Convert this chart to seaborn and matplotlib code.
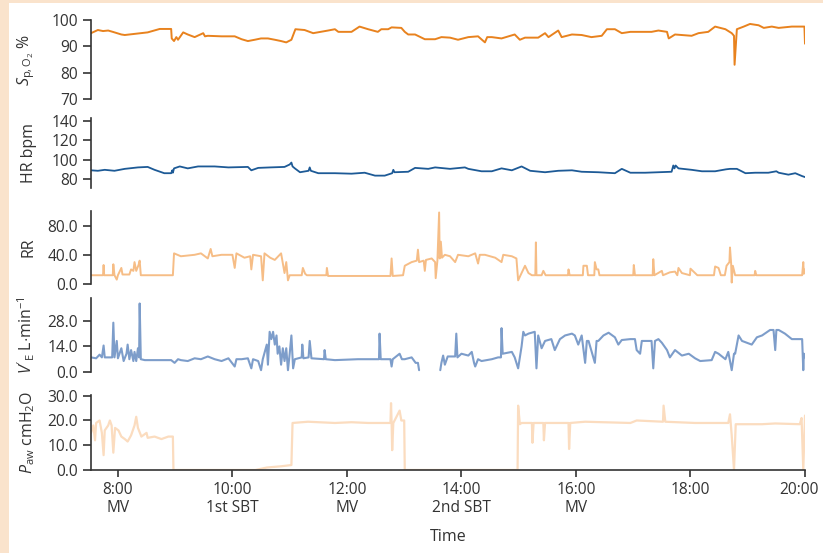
import matplotlib
matplotlib.use("Agg")
import matplotlib.pyplot as plt
from matplotlib.patches import Rectangle
from matplotlib.transforms import ScaledTranslation
import seaborn as sns
import pandas as pd

# ---------------- data (time in decimal hours, value) ----------------
spo2 = [(7.53, 95.0), (7.65, 96.2), (7.74, 95.8), (7.83, 96.0), (7.91, 95.5), (8.06, 94.5),
        (8.12, 94.3), (8.52, 95.3), (8.73, 96.6), (8.93, 96.6), (8.94, 93.0), (8.98, 92.0),
        (9.02, 93.5), (9.05, 92.5), (9.14, 95.3), (9.22, 94.5), (9.34, 93.5), (9.49, 95.0),
        (9.52, 93.8), (9.57, 94.0), (9.81, 93.8), (10.04, 93.8), (10.16, 92.7), (10.27, 92.0),
        (10.39, 92.5), (10.50, 93.0), (10.62, 93.0), (10.74, 92.5), (10.85, 92.0), (10.94, 91.5),
        (11.03, 92.5), (11.10, 96.5), (11.26, 96.2), (11.41, 95.0), (11.67, 96.0), (11.79, 96.5),
        (11.85, 95.5), (12.08, 95.5), (12.22, 97.5), (12.37, 96.5), (12.54, 95.5), (12.60, 96.5),
        (12.72, 96.5), (12.78, 97.2), (12.95, 97.0), (13.01, 95.5), (13.07, 94.5), (13.19, 94.5),
        (13.36, 92.7), (13.54, 92.7), (13.65, 93.5), (13.80, 93.3), (13.94, 92.5), (14.12, 93.5),
        (14.29, 93.8), (14.41, 91.5), (14.45, 93.5), (14.53, 93.5), (14.70, 93.0), (14.93, 94.5),
        (15.02, 92.5), (15.11, 93.3), (15.34, 93.3), (15.46, 95.0), (15.52, 93.5), (15.69, 96.0),
        (15.75, 93.5), (15.93, 94.5), (16.10, 94.3), (16.27, 93.5), (16.45, 94.0), (16.54, 96.5),
        (16.68, 96.5), (16.80, 95.0), (16.95, 95.5), (17.32, 95.5), (17.44, 96.0), (17.59, 95.5),
        (17.62, 93.0), (17.73, 94.5), (18.02, 94.0), (18.14, 95.0), (18.31, 95.5), (18.43, 97.5),
        (18.61, 96.5), (18.72, 95.0), (18.76, 94.0), (18.77, 83.0), (18.81, 96.5), (18.93, 97.5),
        (19.04, 98.5), (19.19, 98.0), (19.28, 97.0), (19.42, 97.5), (19.54, 97.0), (19.77, 97.5),
        (19.95, 97.5), (19.99, 97.5), (20.0, 91.0)]

hr = [(7.53, 89), (7.65, 88.5), (7.77, 89.5), (7.94, 88.5), (8.12, 90.5), (8.35, 92), (8.52, 92.5),
      (8.64, 89.5), (8.81, 86), (8.93, 86), (8.95, 89), (8.96, 86.5), (8.98, 91), (9.08, 93),
      (9.22, 91), (9.40, 93), (9.69, 93), (9.93, 92), (10.27, 92.5), (10.33, 89), (10.45, 91.5),
      (10.66, 92), (10.91, 92.5), (11.0, 95), (11.03, 97), (11.05, 93), (11.09, 91), (11.18, 87),
      (11.33, 88.5), (11.35, 92), (11.37, 88.5), (11.50, 86), (11.79, 86), (12.08, 85.5),
      (12.31, 86.5), (12.49, 83.5), (12.66, 83.5), (12.79, 86), (12.81, 89.5), (12.83, 87),
      (13.07, 87.5), (13.19, 91.5), (13.42, 90.5), (13.54, 92), (13.80, 90.5), (14.06, 92),
      (14.12, 90.5), (14.35, 88), (14.53, 88), (14.70, 91), (14.88, 89), (15.05, 93), (15.20, 88.5),
      (15.46, 87), (15.69, 88.5), (15.93, 89), (16.10, 87.5), (16.39, 87), (16.68, 86), (16.80, 90.5),
      (16.95, 86.5), (17.21, 86.5), (17.67, 87.5), (17.70, 94), (17.72, 91), (17.74, 94), (17.79, 91),
      (18.02, 89.5), (18.20, 88), (18.43, 88), (18.62, 90), (18.69, 90.5), (18.81, 90.5), (18.96, 86),
      (19.13, 86.5), (19.36, 86.5), (19.50, 88), (19.54, 86.5), (19.71, 84.5), (19.83, 86),
      (19.95, 83), (20.0, 82)]

rr = [(7.53, 12), (7.74, 12), (7.75, 26), (7.76, 12), (7.91, 12), (7.92, 27), (7.94, 12), (7.98, 6),
      (8.0, 12), (8.06, 22), (8.08, 13), (8.2, 13), (8.23, 20), (8.27, 18), (8.29, 30), (8.32, 18),
      (8.36, 26), (8.38, 32), (8.40, 12), (8.96, 12), (8.98, 42), (9.10, 38), (9.22, 39), (9.34, 40),
      (9.45, 42), (9.57, 35), (9.62, 48), (9.65, 38), (9.81, 40), (10.0, 40), (10.04, 22), (10.07, 42),
      (10.21, 36), (10.31, 38), (10.33, 20), (10.36, 40), (10.50, 38), (10.53, 5), (10.56, 42),
      (10.66, 36), (10.74, 33), (10.85, 42), (10.91, 15), (10.94, 30), (10.97, 5), (11.0, 12),
      (11.21, 12), (11.23, 22), (11.27, 14), (11.30, 12), (11.64, 12), (11.65, 22), (11.67, 11),
      (12.76, 11), (12.78, 35), (12.80, 11), (12.98, 12), (13.01, 25), (13.13, 30), (13.22, 32),
      (13.24, 47), (13.26, 30), (13.34, 32), (13.36, 18), (13.38, 33), (13.48, 35), (13.54, 30),
      (13.55, 8), (13.58, 32), (13.61, 98), (13.62, 35), (13.64, 58), (13.66, 36), (13.71, 40),
      (13.80, 38), (13.89, 30), (13.94, 40), (14.12, 38), (14.24, 42), (14.29, 28), (14.32, 40),
      (14.41, 40), (14.59, 36), (14.70, 30), (14.73, 40), (14.88, 38), (14.96, 35), (14.99, 5),
      (15.05, 15), (15.11, 25), (15.17, 15), (15.23, 12), (15.29, 12), (15.30, 57), (15.31, 12),
      (15.40, 12), (15.43, 18), (15.47, 12), (15.86, 12), (15.87, 20), (15.89, 12), (16.12, 12),
      (16.13, 25), (16.19, 25), (16.21, 12), (16.32, 12), (16.33, 30), (16.36, 20), (16.39, 20),
      (16.41, 12), (17.0, 12), (17.01, 26), (17.03, 12), (17.34, 12), (17.35, 34), (17.37, 12),
      (17.50, 18), (17.52, 12), (17.64, 16), (17.73, 17), (17.77, 12), (17.79, 22), (17.85, 15),
      (17.99, 12), (18.0, 21), (18.08, 15), (18.12, 12), (18.41, 12), (18.43, 24), (18.49, 22),
      (18.53, 12), (18.60, 12), (18.63, 25), (18.68, 30), (18.69, 50), (18.71, 28), (18.72, 2),
      (18.74, 25), (18.78, 12), (19.12, 12), (19.13, 18), (19.15, 12), (19.95, 12), (19.97, 30),
      (19.98, 14), (20.0, 20)]

ve_part1 = [(7.53, 8), (7.62, 7.5), (7.68, 9.5), (7.72, 8), (7.75, 14.5), (7.77, 8), (7.90, 8),
            (7.92, 27), (7.94, 8), (7.98, 17), (8.0, 7.5), (8.06, 13), (8.10, 6), (8.15, 10),
            (8.17, 15), (8.20, 7), (8.23, 12), (8.27, 6), (8.29, 11), (8.32, 6), (8.35, 13),
            (8.37, 8), (8.38, 37.5), (8.40, 7), (8.47, 6.5), (8.93, 6.5), (8.99, 5), (9.05, 7),
            (9.10, 6.5), (9.22, 6), (9.34, 7.5), (9.45, 7), (9.57, 8.5), (9.69, 7), (9.81, 6),
            (9.93, 7.5), (10.04, 3), (10.07, 7), (10.16, 7), (10.27, 7.5), (10.33, 2), (10.36, 7),
            (10.45, 6), (10.50, 1), (10.53, 7), (10.60, 15), (10.62, 4), (10.65, 22), (10.68, 18),
            (10.71, 22), (10.74, 15), (10.77, 20), (10.79, 10), (10.82, 14), (10.85, 4), (10.88, 13),
            (10.91, 6), (10.94, 13), (10.97, 1), (11.0, 10), (11.03, 20), (11.06, 2), (11.09, 7),
            (11.21, 8), (11.22, 15), (11.24, 7.5), (11.33, 8), (11.35, 17), (11.38, 7.5), (11.60, 7),
            (11.61, 12), (11.63, 7), (11.79, 6.5), (12.19, 7), (12.56, 7), (12.57, 21), (12.59, 7),
            (12.76, 7), (12.78, 3), (12.80, 7), (12.92, 10), (12.96, 7), (13.01, 7), (13.13, 8),
            (13.20, 5), (13.24, 5), (13.26, 1)]

ve_part2 = [(13.63, 1), (13.65, 5), (13.68, 9), (13.71, 4), (13.76, 8.5), (13.89, 8.5), (13.91, 21),
            (13.93, 8), (14.0, 10), (14.12, 9), (14.18, 11), (14.22, 5), (14.24, 3), (14.29, 7),
            (14.35, 6), (14.53, 7), (14.64, 8), (14.69, 8), (14.70, 24), (14.72, 10), (14.88, 11),
            (14.93, 8), (14.99, 2), (15.02, 8), (15.05, 14), (15.08, 22), (15.11, 20), (15.17, 21),
            (15.28, 22), (15.31, 2), (15.34, 20), (15.40, 13), (15.46, 17), (15.57, 18), (15.63, 12),
            (15.72, 18), (15.81, 20), (15.93, 21), (15.98, 20), (16.04, 15), (16.10, 20), (16.16, 5),
            (16.19, 17), (16.22, 17), (16.33, 5), (16.36, 17), (16.39, 17), (16.48, 20), (16.57, 21.5),
            (16.68, 19), (16.74, 15), (16.80, 17.5), (16.95, 18), (17.03, 18), (17.06, 12), (17.12, 10),
            (17.15, 17), (17.32, 17), (17.35, 2), (17.38, 17), (17.44, 18), (17.50, 16), (17.59, 12),
            (17.64, 8), (17.73, 12), (17.85, 9), (17.97, 10), (18.08, 7.5), (18.17, 6), (18.37, 6.5),
            (18.43, 11), (18.49, 10), (18.61, 7), (18.66, 11), (18.72, 1), (18.76, 10), (18.78, 10),
            (18.84, 20), (18.90, 17), (19.07, 15), (19.16, 19), (19.25, 20), (19.39, 23), (19.45, 23),
            (19.48, 12), (19.50, 23), (19.54, 23), (19.65, 21), (19.77, 18), (19.95, 18), (19.97, 1),
            (19.98, 10), (20.0, 8)]

paw = [(7.53, 15), (7.57, 18), (7.60, 12), (7.62, 19), (7.68, 20), (7.72, 15), (7.75, 6), (7.77, 16),
       (7.83, 18), (7.86, 20), (7.89, 18), (7.92, 7), (7.95, 17), (8.01, 16), (8.06, 13.5),
       (8.12, 12.5), (8.17, 11.5), (8.23, 14), (8.29, 18), (8.32, 21.5), (8.35, 17), (8.41, 13.5),
       (8.50, 15), (8.52, 13), (8.64, 13.5), (8.76, 12.5), (8.88, 13.5), (8.96, 13.5), (8.97, 0),
       (10.4, 0), (10.6, 1), (10.85, 1.5), (11.03, 2), (11.05, 19), (11.32, 19.5), (11.79, 19),
       (12.08, 19.3), (12.37, 19), (12.76, 19), (12.77, 27), (12.78, 19), (12.79, 8), (12.81, 19),
       (12.92, 24), (12.95, 20), (13.0, 20), (13.01, 0), (14.98, 0), (14.99, 26), (15.02, 18.5),
       (15.05, 19), (15.23, 19), (15.24, 11), (15.26, 19), (15.43, 19), (15.44, 12), (15.46, 19),
       (15.87, 19), (15.88, 8.5), (15.90, 19), (16.16, 19.5), (16.95, 19), (17.06, 20), (17.52, 19.5),
       (17.53, 26), (17.56, 19.5), (18.08, 19), (18.66, 19), (18.69, 22.5), (18.72, 14), (18.76, 0),
       (18.79, 18.5), (19.25, 18.5), (19.48, 18.8), (19.91, 18.5), (19.94, 21), (19.97, 0), (20.0, 22)]

x_ticks = [8, 10, 12, 14, 16, 18, 20]
x_tick_labels = ["8:00\nMV", "10:00\n1st SBT", "12:00\nMV", "14:00\n2nd SBT", "16:00\nMV",
                 "18:00", "20:00"]

spo2_ticks = [70, 80, 90, 100]
hr_ticks = [80, 100, 120, 140]
rr_ticks = [0, 40, 80]
ve_ticks = [0, 14, 28]
paw_ticks = [0, 10, 20, 30]

# ---------------- style ----------------
sns.set_theme(style="white")
plt.rcParams['font.family'] = ['Open Sans', 'DejaVu Sans']
plt.rcParams['mathtext.fontset'] = 'custom'
plt.rcParams['mathtext.rm'] = 'Open Sans'
plt.rcParams['mathtext.it'] = 'Open Sans:italic'
plt.rcParams['mathtext.bf'] = 'Open Sans:bold'

TXT = '#333333'
W, H = 823, 553
fig = plt.figure(figsize=(W / 100, H / 100), dpi=100)
fig.patch.set_facecolor('white')
fig.patches.append(Rectangle((0, 0), 9 / W, 1, transform=fig.transFigure,
                             facecolor='#fae3cc', edgecolor='none', zorder=0))
fig.patches.append(Rectangle((0, 1 - 3 / H), 1, 3 / H, transform=fig.transFigure,
                             facecolor='#fae3cc', edgecolor='none', zorder=0))

left_px, right_px = 91, 805
panels = [  # (top px, bottom px)
    (20, 99), (118, 188), (211, 284), (298, 372), (395, 470)]
axes = []
for top, bot in panels:
    ax = fig.add_axes([left_px / W, 1 - bot / H, (right_px - left_px) / W, (bot - top) / H])
    ax.set_facecolor('none')
    axes.append(ax)


def draw(ax, pairs, color, lw):
    df = pd.DataFrame(pairs, columns=['t', 'v'])
    sns.lineplot(data=df, x='t', y='v', ax=ax, color=color, linewidth=lw,
                 estimator=None, sort=False)


draw(axes[0], spo2, '#e8821e', 1.4)
draw(axes[1], hr, '#1d5a96', 1.3)
draw(axes[2], rr, '#f6bd86', 1.4)
draw(axes[3], ve_part1, '#7d9dca', 1.5)
draw(axes[3], ve_part2, '#7d9dca', 1.5)
draw(axes[4], paw, '#fbdcbf', 1.6)

ylims = [(70, 100), (70.7, 143.1), (0, 100), (0, 40.5), (0, 30.3)]
yticks = [spo2_ticks, hr_ticks, rr_ticks, ve_ticks, paw_ticks]
yfmt = [lambda v: f"{v:d}", lambda v: f"{v:d}", lambda v: f"{v:.1f}",
        lambda v: f"{v:.1f}", lambda v: f"{v:.1f}"]
ylabels = [r"$S_{\mathrm{p,O}_2}$ %", "HR bpm", "RR",
           r"$V'_{\mathrm{E}}$ L$\cdot$min$^{-1}$", r"$P_{\mathrm{aw}}$ cmH$_2$O"]

for i, ax in enumerate(axes):
    ax.set_xlim(7.53, 20.0)
    ax.set_ylim(*ylims[i])
    ax.set_yticks(yticks[i])
    ax.set_yticklabels([yfmt[i](v) for v in yticks[i]])
    for s in ['top', 'right']:
        ax.spines[s].set_visible(False)
    ax.spines['left'].set_color(TXT)
    ax.spines['left'].set_linewidth(1.2)
    ax.tick_params(axis='y', left=True, direction='out', length=6, width=1.2, color=TXT,
                   labelsize=11.2, labelcolor=TXT, pad=3.5)
    ax.set_ylabel(ylabels[i], fontsize=11.5, color=TXT)
    ax.yaxis.set_label_coords(-0.076, 0.5)
    if i < 4:
        ax.spines['bottom'].set_visible(False)
        ax.set_xticks([])
        ax.set_xlabel('')
    else:
        ax.spines['bottom'].set_color(TXT)
        ax.spines['bottom'].set_linewidth(1.2)
        ax.set_xticks(x_ticks)
        ax.set_xticklabels(x_tick_labels)
        ax.tick_params(axis='x', bottom=True, direction='out', length=5, width=1.2, color=TXT,
                       labelsize=11.2, labelcolor=TXT, pad=3.5)
        ax.set_xlabel('Time', fontsize=11.5, color=TXT, labelpad=9)
        last = ax.get_xticklabels()[-1]
        last.set_transform(last.get_transform() +
                           ScaledTranslation(-4 / 72, 0, fig.dpi_scale_trans))

fig.savefig('out.png', dpi=100, facecolor=fig.get_facecolor())
